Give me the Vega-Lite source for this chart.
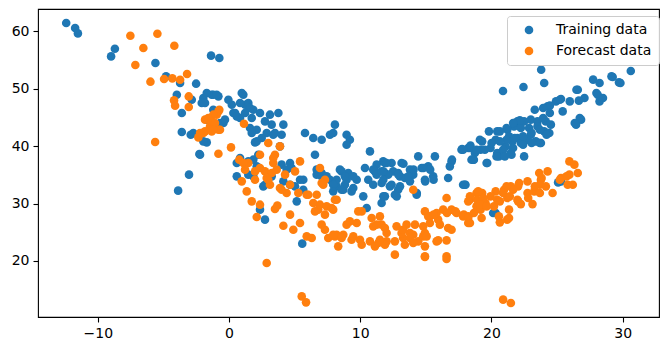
{
"$schema": "https://vega.github.io/schema/vega-lite/v6.json",
"width": 621, "height": 308,
"autosize": {"type": "none"},
"padding": {"left": 38, "top": 9, "right": 8, "bottom": 34},
"background": "white",
"datasets": {
"train": [{"x":-12.41,"y":61.46},{"x":-11.73,"y":60.59},{"x":-11.52,"y":59.65},{"x":-8.70,"y":56.98},{"x":-8.99,"y":55.64},{"x":-5.61,"y":54.49},{"x":-1.37,"y":55.77},{"x":-0.74,"y":55.36},{"x":-4.80,"y":52.16},{"x":-3.73,"y":51.01},{"x":-2.51,"y":50.89},{"x":-3.98,"y":48.97},{"x":-2.84,"y":48.10},{"x":-1.96,"y":48.40},{"x":-1.20,"y":48.97},{"x":-0.81,"y":48.68},{"x":-0.05,"y":48.10},{"x":1.09,"y":48.97},{"x":-2.08,"y":47.53},{"x":-3.60,"y":45.78},{"x":-1.20,"y":46.36},{"x":0.33,"y":45.78},{"x":1.35,"y":47.23},{"x":0.84,"y":44.91},{"x":-0.43,"y":44.04},{"x":1.85,"y":46.36},{"x":-3.60,"y":42.47},{"x":-2.92,"y":42.00},{"x":-1.70,"y":40.66},{"x":-2.26,"y":38.64},{"x":1.98,"y":40.66},{"x":2.23,"y":38.52},{"x":1.60,"y":43.17},{"x":0.59,"y":37.07},{"x":-3.88,"y":32.25},{"x":-3.05,"y":35.04},{"x":-1.32,"y":48.97},{"x":-0.94,"y":48.97},{"x":-1.83,"y":47.53},{"x":0.21,"y":47.23},{"x":1.22,"y":47.23},{"x":1.47,"y":47.53},{"x":0.46,"y":45.78},{"x":1.73,"y":44.91},{"x":2.36,"y":45.78},{"x":3.12,"y":45.49},{"x":3.76,"y":45.78},{"x":2.74,"y":44.32},{"x":3.25,"y":43.75},{"x":4.14,"y":43.75},{"x":2.11,"y":42.87},{"x":1.73,"y":42.30},{"x":2.87,"y":42.30},{"x":3.37,"y":42.00},{"x":2.11,"y":40.84},{"x":5.79,"y":42.30},{"x":6.42,"y":41.43},{"x":7.06,"y":41.13},{"x":7.69,"y":42.00},{"x":8.07,"y":43.75},{"x":-2.72,"y":42.30},{"x":-1.96,"y":40.84},{"x":-2.21,"y":38.52},{"x":3.88,"y":39.97},{"x":6.55,"y":38.52},{"x":1.85,"y":37.65},{"x":2.11,"y":36.48},{"x":4.01,"y":36.78},{"x":4.65,"y":37.07},{"x":4.39,"y":35.91},{"x":0.59,"y":34.74},{"x":1.47,"y":35.04},{"x":5.66,"y":34.16},{"x":6.68,"y":35.91},{"x":7.06,"y":34.74},{"x":7.69,"y":34.16},{"x":8.20,"y":33.00},{"x":-1.70,"y":44.62},{"x":-0.68,"y":44.04},{"x":-0.31,"y":44.62},{"x":0.84,"y":47.53},{"x":0.97,"y":49.27},{"x":-1.70,"y":49.27},{"x":1.60,"y":46.65},{"x":1.22,"y":45.78},{"x":0.59,"y":45.19},{"x":2.49,"y":41.43},{"x":3.50,"y":42.30},{"x":4.01,"y":42.00},{"x":4.77,"y":36.20},{"x":5.41,"y":34.16},{"x":5.66,"y":32.42},{"x":5.03,"y":33.00},{"x":4.14,"y":33.87},{"x":3.25,"y":34.74},{"x":2.61,"y":33.00},{"x":1.85,"y":34.74},{"x":0.84,"y":37.94},{"x":1.47,"y":37.35},{"x":2.74,"y":33.29},{"x":4.65,"y":33.29},{"x":5.16,"y":30.39},{"x":2.36,"y":28.94},{"x":2.74,"y":27.20},{"x":5.58,"y":23.02},{"x":6.68,"y":35.04},{"x":7.06,"y":35.33},{"x":8.07,"y":33.59},{"x":7.44,"y":34.74},{"x":8.96,"y":42.00},{"x":9.21,"y":41.13},{"x":10.74,"y":39.09},{"x":11.75,"y":37.35},{"x":11.25,"y":36.78},{"x":12.39,"y":37.07},{"x":10.36,"y":36.20},{"x":11.12,"y":35.61},{"x":11.88,"y":35.33},{"x":12.51,"y":35.61},{"x":13.02,"y":34.74},{"x":10.23,"y":31.26},{"x":11.88,"y":31.26},{"x":9.73,"y":34.16},{"x":9.09,"y":35.33},{"x":8.45,"y":35.91},{"x":8.20,"y":34.16},{"x":8.96,"y":34.16},{"x":7.94,"y":33.29},{"x":8.71,"y":32.42},{"x":9.34,"y":32.12},{"x":7.94,"y":42.30},{"x":8.96,"y":40.26},{"x":11.88,"y":37.07},{"x":13.15,"y":37.07},{"x":14.42,"y":38.22},{"x":15.69,"y":38.22},{"x":16.96,"y":37.35},{"x":16.83,"y":36.48},{"x":17.72,"y":39.39},{"x":18.23,"y":39.69},{"x":18.74,"y":38.81},{"x":18.48,"y":37.65},{"x":8.58,"y":35.61},{"x":8.83,"y":34.74},{"x":9.47,"y":34.74},{"x":10.99,"y":35.91},{"x":11.25,"y":35.04},{"x":11.63,"y":35.61},{"x":12.13,"y":35.04},{"x":12.89,"y":35.33},{"x":13.79,"y":35.91},{"x":14.04,"y":35.04},{"x":14.68,"y":36.20},{"x":15.18,"y":36.48},{"x":15.56,"y":34.74},{"x":14.93,"y":34.16},{"x":16.70,"y":34.46},{"x":17.84,"y":33.29},{"x":10.61,"y":34.16},{"x":10.99,"y":33.29},{"x":11.63,"y":33.59},{"x":12.39,"y":33.29},{"x":12.89,"y":32.42},{"x":13.40,"y":34.46},{"x":13.79,"y":33.87},{"x":14.30,"y":31.55},{"x":11.63,"y":30.11},{"x":10.49,"y":29.23},{"x":8.83,"y":33.29},{"x":9.47,"y":32.72},{"x":8.58,"y":32.42},{"x":7.94,"y":32.13},{"x":12.64,"y":31.55},{"x":23.79,"y":53.33},{"x":24.02,"y":51.01},{"x":22.44,"y":50.31},{"x":20.88,"y":49.62},{"x":27.75,"y":51.59},{"x":28.24,"y":51.01},{"x":29.24,"y":52.05},{"x":29.83,"y":51.01},{"x":30.62,"y":53.10},{"x":26.58,"y":49.84},{"x":27.09,"y":48.40},{"x":26.66,"y":47.93},{"x":25.97,"y":47.80},{"x":25.30,"y":48.22},{"x":24.92,"y":47.80},{"x":24.28,"y":46.93},{"x":25.43,"y":46.06},{"x":28.10,"y":48.97},{"x":28.24,"y":47.80},{"x":28.50,"y":48.40},{"x":23.30,"y":46.36},{"x":26.83,"y":44.62},{"x":26.45,"y":43.75},{"x":21.98,"y":44.32},{"x":22.49,"y":44.32},{"x":23.00,"y":44.62},{"x":23.51,"y":44.32},{"x":24.14,"y":44.32},{"x":24.53,"y":43.75},{"x":21.72,"y":43.45},{"x":22.24,"y":43.17},{"x":22.87,"y":43.17},{"x":23.51,"y":43.45},{"x":24.02,"y":42.58},{"x":24.41,"y":42.30},{"x":21.21,"y":42.87},{"x":21.34,"y":41.71},{"x":19.81,"y":42.58},{"x":20.44,"y":42.58},{"x":20.32,"y":41.13},{"x":19.29,"y":40.84},{"x":19.93,"y":39.69},{"x":20.44,"y":38.81},{"x":21.08,"y":39.97},{"x":21.60,"y":40.84},{"x":21.98,"y":41.43},{"x":22.24,"y":40.56},{"x":22.75,"y":41.13},{"x":23.38,"y":40.84},{"x":23.77,"y":40.56},{"x":23.00,"y":42.00},{"x":21.47,"y":38.81},{"x":22.49,"y":38.22},{"x":17.76,"y":39.51},{"x":18.40,"y":40.09},{"x":19.17,"y":39.39},{"x":18.66,"y":37.65},{"x":19.68,"y":37.07},{"x":20.57,"y":38.22},{"x":16.99,"y":37.65},{"x":13.29,"y":36.95},{"x":14.06,"y":35.91},{"x":14.82,"y":36.20},{"x":15.33,"y":35.91},{"x":14.95,"y":33.87},{"x":15.59,"y":34.16},{"x":18.02,"y":33.29},{"x":12.91,"y":35.04},{"x":13.67,"y":34.74},{"x":13.03,"y":33.00},{"x":12.78,"y":31.26},{"x":12.26,"y":33.00},{"x":11.76,"y":31.26},{"x":14.31,"y":31.85},{"x":25.30,"y":33.87},{"x":20.32,"y":28.36},{"x":29.15,"y":52.16},{"x":29.72,"y":51.11},{"x":26.48,"y":49.84},{"x":28.00,"y":49.27},{"x":25.21,"y":48.10},{"x":24.45,"y":47.06},{"x":23.94,"y":46.65},{"x":26.73,"y":44.91},{"x":26.35,"y":44.04},{"x":24.45,"y":45.78},{"x":23.94,"y":44.91},{"x":22.16,"y":44.49},{"x":21.65,"y":44.04},{"x":21.15,"y":43.17},{"x":20.64,"y":42.58},{"x":19.12,"y":41.13},{"x":18.36,"y":39.69},{"x":17.84,"y":39.39},{"x":24.20,"y":42.00},{"x":23.69,"y":42.87},{"x":23.06,"y":42.30},{"x":22.41,"y":41.71},{"x":21.78,"y":41.43},{"x":21.15,"y":41.13},{"x":20.64,"y":40.84},{"x":20.01,"y":40.56},{"x":19.50,"y":39.39},{"x":18.86,"y":39.39},{"x":23.69,"y":40.56},{"x":23.06,"y":40.56},{"x":22.41,"y":40.26},{"x":21.65,"y":39.69},{"x":20.89,"y":39.39},{"x":20.39,"y":38.22},{"x":19.63,"y":37.07},{"x":18.61,"y":37.65},{"x":21.53,"y":38.52},{"x":21.02,"y":38.22},{"x":17.97,"y":33.29},{"x":20.13,"y":28.36},{"x":25.08,"y":33.69},{"x":12.01,"y":37.07},{"x":11.76,"y":34.16},{"x":11.76,"y":35.61}],
"forecast": [{"x":-7.52,"y":59.25},{"x":-5.46,"y":59.60},{"x":-6.53,"y":57.11},{"x":-4.17,"y":57.51},{"x":-7.14,"y":54.15},{"x":-5.99,"y":51.24},{"x":-4.95,"y":51.71},{"x":-4.32,"y":51.81},{"x":-3.73,"y":51.58},{"x":-3.20,"y":52.57},{"x":-4.19,"y":47.98},{"x":-4.11,"y":47.05},{"x":-3.07,"y":48.67},{"x":-3.07,"y":46.83},{"x":-0.74,"y":46.36},{"x":-0.94,"y":45.49},{"x":-1.83,"y":44.62},{"x":-1.45,"y":43.45},{"x":-1.83,"y":42.58},{"x":-0.81,"y":42.87},{"x":-2.34,"y":41.53},{"x":1.14,"y":43.92},{"x":-5.63,"y":40.73},{"x":0.15,"y":39.79},{"x":-0.81,"y":38.69},{"x":0.78,"y":37.65},{"x":1.47,"y":37.07},{"x":-0.81,"y":46.06},{"x":-1.20,"y":45.49},{"x":-1.58,"y":44.91},{"x":-1.32,"y":44.32},{"x":-1.07,"y":44.04},{"x":-0.69,"y":42.87},{"x":-1.32,"y":42.58},{"x":-1.96,"y":42.30},{"x":-2.21,"y":42.30},{"x":-1.20,"y":42.87},{"x":2.99,"y":40.56},{"x":3.88,"y":39.97},{"x":2.36,"y":38.52},{"x":3.50,"y":38.52},{"x":3.37,"y":37.07},{"x":3.37,"y":37.94},{"x":1.09,"y":37.07},{"x":5.41,"y":37.35},{"x":1.22,"y":35.91},{"x":1.98,"y":35.61},{"x":2.36,"y":36.20},{"x":2.74,"y":35.61},{"x":3.25,"y":35.33},{"x":3.63,"y":35.91},{"x":4.27,"y":35.04},{"x":5.03,"y":35.61},{"x":6.93,"y":36.20},{"x":0.97,"y":33.87},{"x":1.98,"y":34.16},{"x":2.87,"y":34.46},{"x":3.12,"y":33.29},{"x":3.88,"y":32.72},{"x":4.65,"y":33.29},{"x":7.31,"y":34.16},{"x":7.06,"y":33.59},{"x":1.35,"y":32.12},{"x":1.73,"y":30.39},{"x":2.36,"y":29.81},{"x":4.39,"y":31.85},{"x":5.28,"y":31.85},{"x":5.92,"y":31.55},{"x":6.68,"y":31.55},{"x":8.20,"y":30.68},{"x":6.93,"y":29.81},{"x":7.44,"y":29.52},{"x":2.87,"y":19.65},{"x":5.54,"y":13.83},{"x":5.87,"y":12.79},{"x":2.11,"y":27.67},{"x":3.50,"y":29.06},{"x":3.68,"y":29.64},{"x":4.65,"y":28.07},{"x":4.14,"y":26.15},{"x":4.90,"y":25.45},{"x":5.41,"y":26.62},{"x":5.92,"y":24.29},{"x":6.30,"y":24.01},{"x":2.99,"y":34.16},{"x":4.01,"y":32.42},{"x":6.04,"y":31.55},{"x":7.18,"y":33.29},{"x":6.80,"y":28.94},{"x":7.31,"y":28.07},{"x":6.55,"y":28.64},{"x":7.06,"y":26.33},{"x":7.31,"y":25.45},{"x":7.56,"y":24.01},{"x":8.20,"y":24.58},{"x":8.32,"y":22.55},{"x":6.42,"y":30.11},{"x":7.82,"y":29.23},{"x":8.07,"y":30.68},{"x":8.96,"y":26.33},{"x":10.11,"y":28.64},{"x":10.87,"y":27.49},{"x":11.50,"y":27.77},{"x":10.99,"y":26.03},{"x":11.63,"y":26.33},{"x":12.01,"y":24.88},{"x":12.77,"y":26.03},{"x":13.53,"y":26.33},{"x":14.17,"y":26.33},{"x":14.80,"y":26.03},{"x":15.18,"y":27.77},{"x":15.31,"y":26.62},{"x":15.94,"y":27.20},{"x":14.04,"y":24.58},{"x":13.27,"y":24.01},{"x":12.64,"y":23.42},{"x":12.01,"y":23.42},{"x":11.37,"y":23.13},{"x":10.74,"y":23.42},{"x":9.98,"y":23.71},{"x":9.34,"y":23.71},{"x":8.71,"y":24.58},{"x":8.07,"y":24.29},{"x":10.11,"y":22.84},{"x":11.88,"y":22.84},{"x":13.40,"y":22.84},{"x":14.80,"y":24.29},{"x":14.93,"y":22.55},{"x":12.64,"y":21.10},{"x":14.93,"y":20.70},{"x":15.82,"y":23.42},{"x":14.04,"y":32.42},{"x":7.94,"y":28.94},{"x":16.58,"y":30.97},{"x":18.35,"y":30.68},{"x":18.86,"y":31.85},{"x":18.86,"y":29.52},{"x":14.93,"y":28.64},{"x":15.31,"y":27.77},{"x":15.82,"y":28.36},{"x":16.32,"y":28.94},{"x":16.96,"y":28.94},{"x":17.34,"y":28.36},{"x":17.84,"y":27.77},{"x":18.36,"y":26.62},{"x":9.85,"y":28.64},{"x":9.21,"y":26.90},{"x":9.73,"y":26.62},{"x":11.25,"y":26.33},{"x":11.88,"y":25.75},{"x":13.15,"y":24.88},{"x":13.79,"y":24.88},{"x":14.93,"y":24.88},{"x":16.07,"y":26.33},{"x":16.70,"y":25.75},{"x":7.94,"y":24.58},{"x":8.58,"y":24.01},{"x":9.47,"y":24.29},{"x":11.50,"y":23.71},{"x":13.79,"y":24.01},{"x":14.42,"y":23.42},{"x":15.06,"y":24.29},{"x":11.12,"y":22.55},{"x":14.93,"y":20.81},{"x":16.58,"y":20.81},{"x":20.89,"y":13.26},{"x":21.48,"y":12.68},{"x":16.58,"y":20.35},{"x":15.94,"y":23.59},{"x":16.58,"y":23.59},{"x":16.96,"y":25.45},{"x":18.23,"y":27.77},{"x":19.25,"y":27.49},{"x":20.64,"y":26.73},{"x":21.20,"y":27.20},{"x":13.27,"y":25.45},{"x":14.04,"y":23.13},{"x":25.94,"y":37.35},{"x":26.32,"y":36.78},{"x":26.58,"y":35.33},{"x":25.94,"y":35.04},{"x":25.30,"y":34.46},{"x":25.81,"y":33.29},{"x":26.20,"y":33.29},{"x":23.64,"y":35.33},{"x":24.28,"y":35.61},{"x":23.77,"y":34.16},{"x":24.15,"y":33.00},{"x":24.66,"y":31.85},{"x":22.75,"y":33.87},{"x":22.11,"y":33.59},{"x":21.47,"y":33.00},{"x":20.96,"y":32.42},{"x":20.32,"y":32.13},{"x":19.93,"y":31.26},{"x":19.29,"y":31.85},{"x":18.91,"y":30.68},{"x":19.55,"y":30.11},{"x":20.44,"y":30.68},{"x":21.21,"y":30.97},{"x":21.98,"y":30.68},{"x":22.75,"y":31.85},{"x":23.26,"y":32.13},{"x":22.24,"y":29.91},{"x":23.13,"y":29.91},{"x":21.34,"y":28.94},{"x":19.17,"y":28.94},{"x":20.19,"y":29.52},{"x":15.59,"y":28.07},{"x":16.61,"y":28.36},{"x":17.25,"y":28.64},{"x":17.89,"y":28.07},{"x":18.66,"y":28.36},{"x":21.34,"y":27.49},{"x":20.57,"y":27.77},{"x":25.72,"y":34.74},{"x":25.21,"y":34.16},{"x":23.82,"y":34.46},{"x":23.69,"y":33.29},{"x":23.31,"y":33.00},{"x":22.03,"y":33.00},{"x":21.65,"y":32.42},{"x":21.15,"y":33.00},{"x":20.89,"y":31.85},{"x":19.37,"y":30.97},{"x":18.99,"y":32.12},{"x":18.36,"y":31.26},{"x":18.23,"y":30.39},{"x":19.12,"y":29.81},{"x":19.63,"y":29.52},{"x":20.64,"y":30.39},{"x":21.40,"y":31.26},{"x":22.03,"y":30.39},{"x":22.80,"y":30.97},{"x":23.69,"y":31.85},{"x":18.23,"y":27.49},{"x":18.23,"y":26.62}]
},
"layer": [
{"data": {"name": "train"},
 "mark": {"type": "point", "filled": true, "opacity": 1, "size": 74, "shape": "circle", "strokeWidth": 0},
 "encoding": {
  "x": {"field": "x", "type": "quantitative", "scale": {"domain": [-14.56, 32.77], "nice": false, "zero": false}, "axis": {"values": [-10,0,10,20,30], "format": "d"}},
  "y": {"field": "y", "type": "quantitative", "scale": {"domain": [10.24, 63.9], "nice": false, "zero": false}, "axis": {"values": [20,30,40,50,60], "format": "d"}},
  "color": {"datum": "Training data", "type": "nominal"}
 }},
{"data": {"name": "forecast"},
 "mark": {"type": "point", "filled": true, "opacity": 1, "size": 74, "shape": "circle", "strokeWidth": 0},
 "encoding": {
  "x": {"field": "x", "type": "quantitative"},
  "y": {"field": "y", "type": "quantitative"},
  "color": {"datum": "Forecast data", "type": "nominal"}
 }}
],
"resolve": {"scale": {"color": "shared"}},
"config": {
 "view": {"stroke": "#000", "strokeWidth": 1.1},
 "range": {"category": ["#1f77b4", "#ff7f0e"]},
 "axis": {"grid": false, "domain": false, "tickColor": "#000", "tickSize": 5, "tickWidth": 1.1, "labelFont": "DejaVu Sans", "labelFontSize": 14, "labelColor": "#000", "labelPadding": 4, "title": null, "labelFlush": false, "labelOverlap": false},
 "legend": {"orient": "none", "legendX": 469, "legendY": 7, "title": null, "fillColor": "rgba(255,255,255,0.8)", "strokeColor": "#cccccc", "cornerRadius": 3, "padding": 7, "symbolOffset": 8, "symbolType": "circle", "symbolSize": 74, "symbolStrokeWidth": 0, "labelFont": "DejaVu Sans", "labelFontSize": 14, "labelColor": "#000", "labelOffset": 20, "rowPadding": 7, "labelLimit": 200}
}
}
